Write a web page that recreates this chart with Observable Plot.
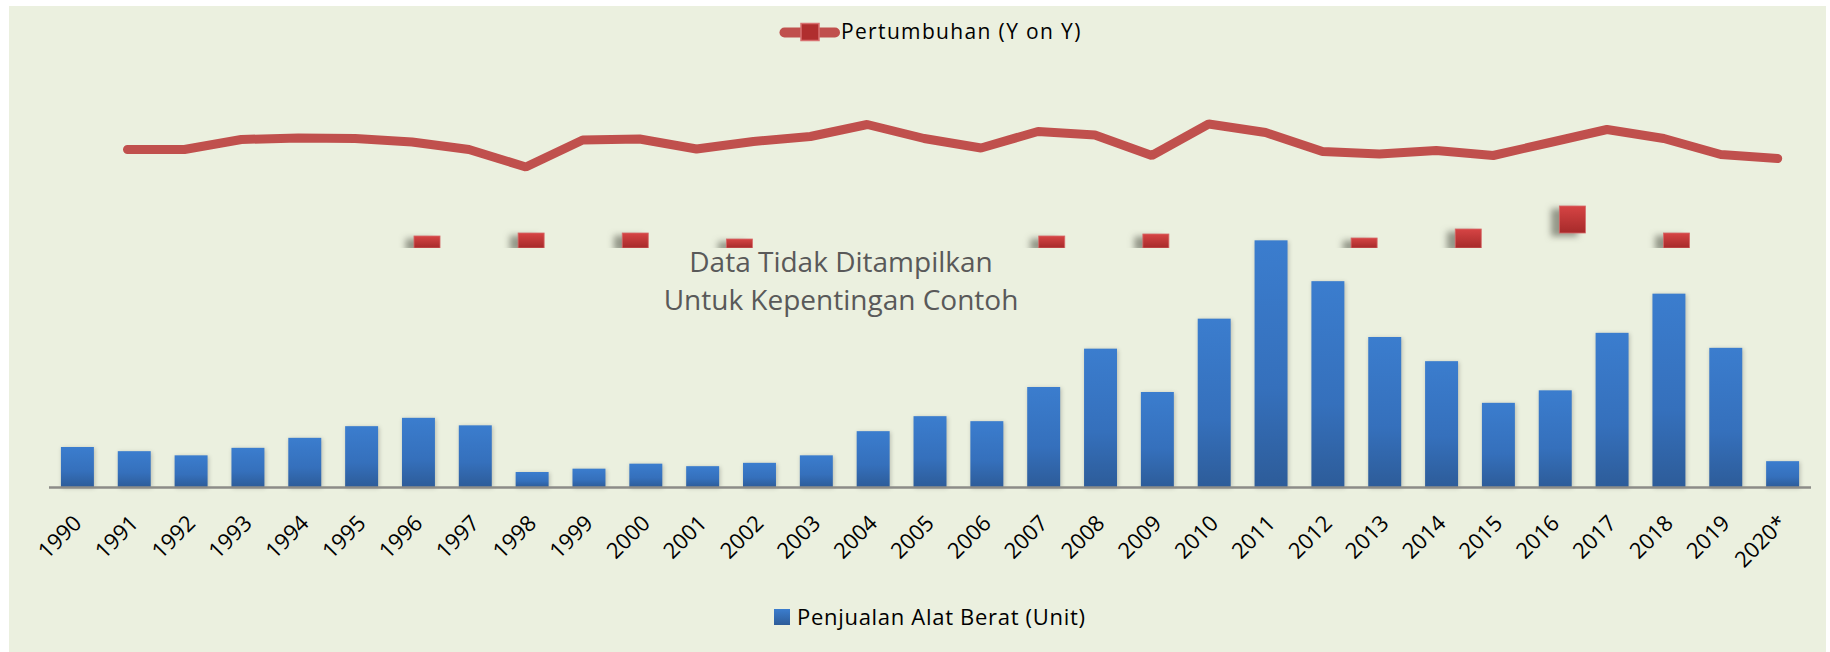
<!DOCTYPE html>
<html><head><meta charset="utf-8">
<script src="https://cdn.jsdelivr.net/npm/d3@7"></script>
<script src="https://cdn.jsdelivr.net/npm/@observablehq/plot@0.6"></script>
<style>
html,body{margin:0;padding:0;background:#fff;}
#chart{position:absolute;left:9px;top:6px;width:1817px;height:646px;background:#EBF0DF;overflow:hidden;font-family:"Open Sans",sans-serif;}
#chart > *{position:absolute;left:0;}
#note{left:532px !important;top:236px;width:600px;text-align:center;font-size:28px;line-height:38px;color:#595959;}
</style></head><body><div id="chart"></div>
<script>
// ---- data ----
const years = ["1990","1991","1992","1993","1994","1995","1996","1997","1998","1999","2000","2001","2002","2003","2004","2005","2006","2007","2008","2009","2010","2011","2012","2013","2014","2015","2016","2017","2018","2019","2020*"];
const sales = [2400,2150,1900,2350,2950,3650,4150,3700,900,1100,1400,1250,1450,1900,3350,4250,3950,6000,8300,5700,10100,14800,12350,9000,7550,5050,5800,9250,11600,8350,1550];
const growthYears = ["1991","1992","1993","1994","1995","1996","1997","1998","1999","2000","2001","2002","2003","2004","2005","2006","2007","2008","2009","2010","2011","2012","2013","2014","2015","2016","2017","2018","2019","2020*"];
const growth = [0,0,20,23,22,15,0,-35,19,21,1,16,26,50,22,3,36,29,-12,51,34,-4,-9,-2,-12,14,40,22,-10,-18];
const markerSlots = [0,2,4,6,12,14,18,20,22,24];
const markerBase = [0,0,0,0,0,0,0,0,15,0];
const markerTop = [12,15,15,9,12,14,10,19,42,15];
const legendBar = "Penjualan Alat Berat (Unit)";
const legendLine = "Pertumbuhan (Y on Y)";
const noteLines = ["Data Tidak Ditampilkan","Untuk Kepentingan Contoh"];

// ---- tables ----
const salesData = years.map((year, i) => ({year, value: sales[i]}));
const growthData = growthYears.map((year, i) => ({year, value: growth[i]}));
const markerData = markerSlots.map((slot, i) => ({slot, base: markerBase[i], top: markerTop[i]}));

const W = 1817;
const chart = document.getElementById("chart");
const baseStyle = {background: "transparent", fontFamily: "Open Sans", overflow: "visible"};

function addGrad(svg, id, stops) {
  const defs = d3.select(svg).insert("defs", ":first-child");
  const g = defs.append("linearGradient").attr("id", id).attr("x1", 0).attr("y1", 0).attr("x2", 0).attr("y2", 1);
  stops.forEach(([o, c]) => g.append("stop").attr("offset", o).attr("stop-color", c));
}

// top legend
const topLeg = d3.create("svg").attr("width", W).attr("height", 50).style("top", "0px");
topLeg.append("line").attr("x1", 775.5).attr("x2", 826).attr("y1", 26.5).attr("y2", 26.5)
  .attr("stroke", "#C0504D").attr("stroke-width", 10).attr("stroke-linecap", "round");
topLeg.append("rect").attr("x", 792).attr("y", 17.5).attr("width", 18).attr("height", 17)
  .attr("fill", "#B02E2E").attr("stroke", "#D87070").attr("stroke-width", 1.5);
topLeg.append("text").attr("x", 832).attr("y", 32.5).attr("font-size", 21).attr("letter-spacing", 1.35)
  .attr("font-family", "Open Sans").attr("fill", "#000").text(legendLine);
chart.appendChild(topLeg.node());

// bars
const p1 = Plot.plot({
  width: W, height: 540,
  marginLeft: 40, marginRight: 15, marginTop: 0, marginBottom: 109,
  x: {type: "band", domain: years, padding: 0.42, round: false, range: [28.06, 1813.96], axis: null},
  y: {domain: [0, 16000], range: [431, 164.33], axis: null},
  style: baseStyle,
  marks: [
    Plot.barY(salesData, {x: "year", y: "value", fill: "url(#barGrad)"}),
    Plot.ruleY([0], {stroke: "#8c8c88", strokeWidth: 2.5}),
    Plot.text(years, {x: d => d, frameAnchor: "bottom", rotate: -45, textAnchor: "end", lineAnchor: "middle", dy: 32, fontSize: 22, fill: "#000"})
  ]
});
addGrad(p1, "barGrad", [[0, "#3B7DCE"], [0.6, "#3570BC"], [1, "#2D5C99"]]);
d3.select(p1).selectAll("g[aria-label='bar']").style("filter", "drop-shadow(1px 1px 2px rgba(0,0,0,0.22))");
p1.style.top = "50px";
chart.appendChild(p1);

// growth line
const p2 = Plot.plot({
  width: W, height: 540,
  marginLeft: 33, marginRight: 20, marginTop: 0, marginBottom: 0,
  x: {type: "point", domain: years, padding: 0, round: false, range: [61.1, 1768.2], axis: null},
  y: {domain: [-100, 100], range: [143, 43], axis: null},
  style: baseStyle,
  marks: [
    Plot.lineY(growthData, {x: "year", y: "value", stroke: "#C0504D", strokeWidth: 9, strokeLinejoin: "miter", strokeLinecap: "round"})
  ]
});
p2.style.top = "50px";
chart.appendChild(p2);

// markers
const p3 = Plot.plot({
  width: W, height: 192, margin: 0,
  x: {domain: [0, 24], range: [418, 1667.5], axis: null},
  y: {domain: [0, 100], range: [192, 92], axis: null},
  style: {background: "transparent"},
  marks: [
    Plot.rect(markerData, {x1: d => d.slot - 0.25, x2: d => d.slot + 0.25, y1: "base", y2: "top", fill: "url(#markGrad)", stroke: "#D66A6A", strokeWidth: 0.8})
  ]
});
addGrad(p3, "markGrad", [[0, "#D64444"], [1, "#A62A2A"]]);
d3.select(p3).selectAll("g[aria-label='rect']").style("filter", "drop-shadow(-8px 3px 3px rgba(60,62,50,0.5))");
p3.style.top = "50px";
chart.appendChild(p3);

// note
const note = document.createElement("div");
note.id = "note";
note.innerHTML = noteLines.join("<br>");
chart.appendChild(note);

// bottom legend
const botLeg = d3.create("svg").attr("width", W).attr("height", 56).style("top", "590px");
const lg = botLeg.append("defs").append("linearGradient").attr("id", "legGrad").attr("x1", 0).attr("y1", 0).attr("x2", 0).attr("y2", 1);
lg.append("stop").attr("offset", 0).attr("stop-color", "#3B7DCE");
lg.append("stop").attr("offset", 1).attr("stop-color", "#2D5C99");
botLeg.append("rect").attr("x", 765).attr("y", 13).attr("width", 16).attr("height", 16).attr("fill", "url(#legGrad)");
botLeg.append("text").attr("x", 788).attr("y", 29).attr("font-size", 22).attr("letter-spacing", 0.7)
  .attr("font-family", "Open Sans").attr("fill", "#000").text(legendBar);
chart.appendChild(botLeg.node());
</script></body></html>
